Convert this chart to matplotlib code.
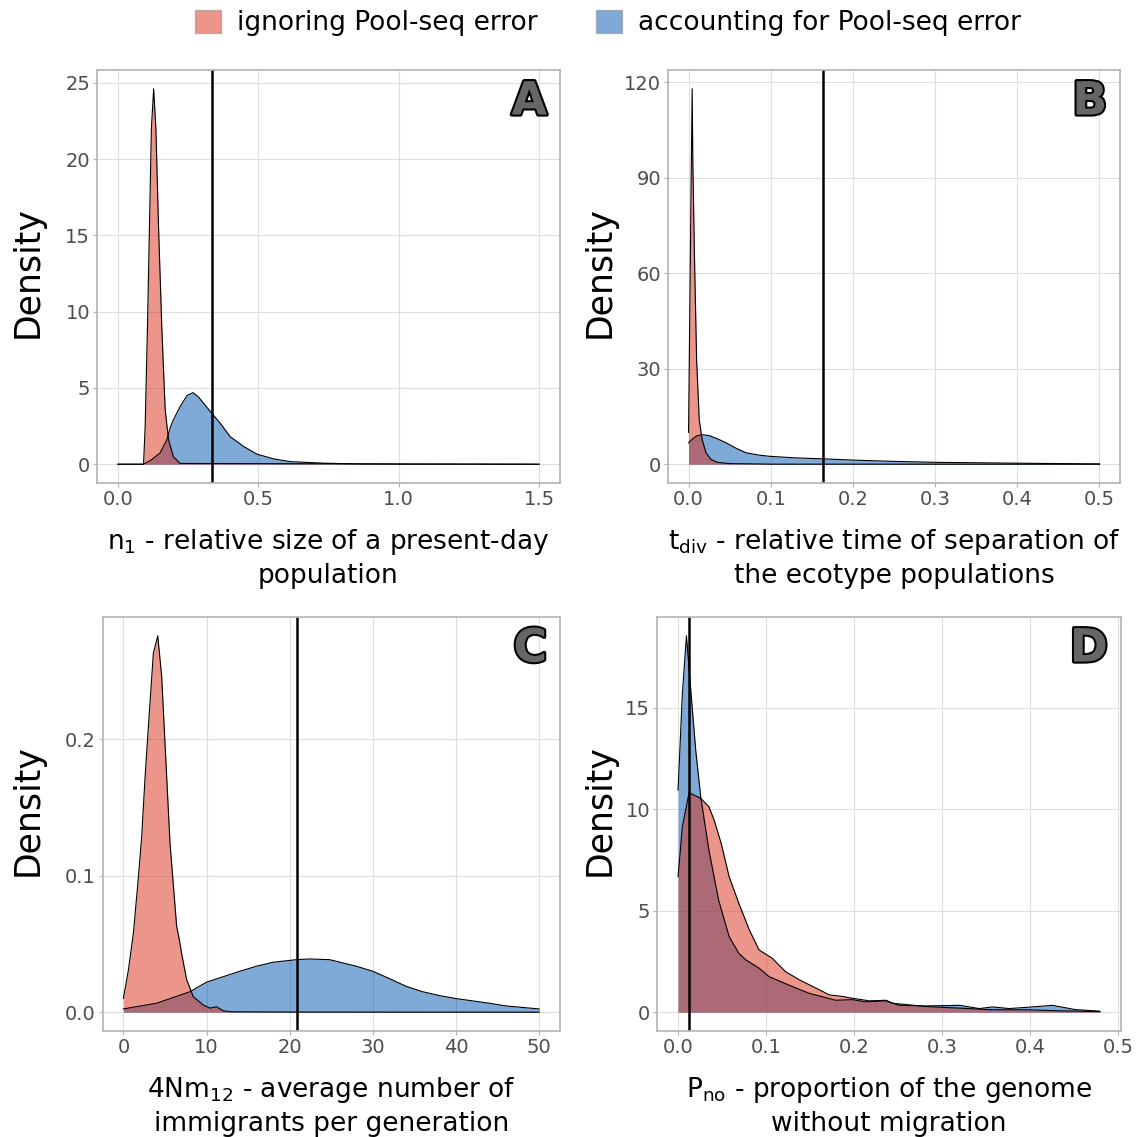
import numpy as np
import matplotlib.pyplot as plt
from matplotlib.patches import Patch
import matplotlib.patheffects as pe

# colours (alpha 0.5 fills, red drawn on top)
red = '#D92D19'
blue = '#0055AF'
grid_col = '#DEDEDE'
frame_col = '#B3B3B3'

# ---- panel A : n1
a_red_x = [0.0, 0.091, 0.0968, 0.105, 0.112, 0.119, 0.127, 0.135, 0.1445, 0.156, 0.168, 0.18, 0.197, 0.221, 1.5]
a_red_y = [0.0, 0.0, 2.5, 9.0, 15.5, 22.0, 24.6, 22.0, 15.5, 9.0, 3.6, 1.6, 0.5, 0.05, 0.0]
a_blue_x = [0.0, 0.091, 0.12, 0.15, 0.174, 0.186, 0.197, 0.222, 0.246, 0.267, 0.287, 0.311, 0.335,
            0.365, 0.40, 0.448, 0.495, 0.555, 0.613, 0.732, 0.85, 1.0, 1.5]
a_blue_y = [0.0, 0.0, 0.3, 0.74, 1.6, 2.4, 2.9, 3.8, 4.5, 4.69, 4.4, 3.86, 3.32,
            2.67, 1.8, 1.16, 0.66, 0.35, 0.17, 0.07, 0.02, 0.005, 0.0]
a_vline = 0.335

# ---- panel B : tdiv
b_red_x = [0.0, 0.001, 0.002, 0.003, 0.0044, 0.0052, 0.0073, 0.0098, 0.013, 0.0163, 0.0212, 0.0273,
           0.035, 0.05, 0.1, 0.5]
b_red_y = [10.0, 35.0, 60.0, 85.0, 118.0, 95.0, 64.0, 33.0, 14.0, 8.0, 3.6, 1.5,
           0.6, 0.2, 0.02, 0.0]
b_blue_x = [0.0, 0.005, 0.01, 0.017, 0.025, 0.035, 0.046, 0.058, 0.07, 0.085, 0.098, 0.13, 0.163,
            0.2, 0.249, 0.3, 0.37, 0.43, 0.5]
b_blue_y = [6.7, 8.0, 8.9, 9.3, 9.0, 8.0, 6.7, 5.0, 3.6, 2.9, 2.5, 2.0, 1.7,
            1.3, 0.9, 0.6, 0.4, 0.25, 0.1]
b_vline = 0.164

# ---- panel C : 4Nm12
c_red_x = [0.0, 0.6, 1.2, 1.8, 2.2, 2.6, 3.0, 3.6, 4.13, 4.6, 5.0, 5.6, 6.4, 6.7, 7.0, 7.6, 8.4,
           9.6, 10.4, 11.2, 12.0, 13.0, 20.0, 50.0]
c_red_y = [0.0102, 0.031, 0.058, 0.099, 0.129, 0.172, 0.209, 0.263, 0.2757, 0.246, 0.197, 0.124,
           0.063, 0.054, 0.043, 0.024, 0.0114, 0.0053, 0.003, 0.004, 0.001, 0.0003, 0.0001, 0.0]
c_blue_x = [0.0, 4.0, 8.0, 10.0, 12.0, 14.0, 16.0, 18.0, 20.8, 22.4, 24.8, 28.0, 30.0, 32.0, 34.0,
            36.0, 38.0, 40.0, 44.0, 46.0, 50.0]
c_blue_y = [0.0024, 0.0066, 0.015, 0.022, 0.026, 0.030, 0.0337, 0.0366, 0.0385, 0.039, 0.0385,
            0.0337, 0.030, 0.0246, 0.019, 0.015, 0.0122, 0.010, 0.0066, 0.0046, 0.0024]
c_vline = 20.9

# ---- panel D : Pno
d_red_x = [0.0, 0.0049, 0.0125, 0.0258, 0.035, 0.041, 0.049, 0.058, 0.069, 0.081, 0.092, 0.107,
           0.122, 0.138, 0.157, 0.172, 0.183, 0.198, 0.217, 0.236, 0.244, 0.282, 0.32, 0.357,
           0.395, 0.433, 0.479]
d_red_y = [6.68, 9.14, 10.82, 10.54, 10.13, 9.47, 8.32, 6.68, 5.37, 4.05, 3.07, 2.66,
           2.0, 1.59, 1.18, 0.85, 0.80, 0.69, 0.56, 0.59, 0.44, 0.28, 0.2, 0.12,
           0.12, 0.07, 0.03]
d_blue_x = [0.0, 0.0049, 0.0095, 0.0163, 0.0201, 0.0258, 0.035, 0.046, 0.058, 0.069, 0.077, 0.092,
            0.1035, 0.13, 0.149, 0.179, 0.198, 0.213, 0.236, 0.251, 0.282, 0.32, 0.342, 0.357,
            0.376, 0.402, 0.425, 0.451, 0.479]
d_blue_y = [10.95, 15.7, 18.55, 14.9, 12.9, 10.6, 8.0, 5.54, 3.73, 2.9, 2.58, 2.17,
            1.75, 1.26, 0.93, 0.59, 0.62, 0.51, 0.56, 0.34, 0.31, 0.34, 0.18, 0.26,
            0.18, 0.26, 0.34, 0.13, 0.05]
d_vline = 0.0125

panels = [
    dict(rect=[0.0852, 0.5752, 0.4069, 0.3632], letter='A', ylab=(-0.112, 0.51),
         rx=a_red_x, ry=a_red_y, bx=a_blue_x, by=a_blue_y, v=a_vline,
         xt=[0.0, 0.5, 1.0, 1.5], xtl=['0.0', '0.5', '1.0', '1.5'],
         yt=[0, 5, 10, 15, 20, 25], ytl=['0', '5', '10', '15', '20', '25'],
         xlab='n$_1$ - relative size of a present-day\npopulation'),
    dict(rect=[0.587, 0.5752, 0.3972, 0.3632], letter='B', ylab=(-0.113, 0.51),
         rx=b_red_x, ry=b_red_y, bx=b_blue_x, by=b_blue_y, v=b_vline,
         xt=[0.0, 0.1, 0.2, 0.3, 0.4, 0.5], xtl=['0.0', '0.1', '0.2', '0.3', '0.4', '0.5'],
         yt=[0, 30, 60, 90, 120], ytl=['0', '30', '60', '90', '120'],
         xlab='t$_\\mathrm{div}$ - relative time of separation of\nthe ecotype populations'),
    dict(rect=[0.0902, 0.0932, 0.4018, 0.3641], letter='C', ylab=(-0.126, 0.535),
         rx=c_red_x, ry=c_red_y, bx=c_blue_x, by=c_blue_y, v=c_vline,
         xt=[0, 10, 20, 30, 40, 50], xtl=['0', '10', '20', '30', '40', '50'],
         yt=[0.0, 0.1, 0.2], ytl=['0.0', '0.1', '0.2'],
         xlab='4Nm$_{12}$ - average number of\nimmigrants per generation'),
    dict(rect=[0.5773, 0.0932, 0.4077, 0.3641], letter='D', ylab=(-0.086, 0.535),
         rx=d_red_x, ry=d_red_y, bx=d_blue_x, by=d_blue_y, v=d_vline,
         xt=[0.0, 0.1, 0.2, 0.3, 0.4, 0.5], xtl=['0.0', '0.1', '0.2', '0.3', '0.4', '0.5'],
         yt=[0, 5, 10, 15], ytl=['0', '5', '10', '15'],
         xlab='P$_\\mathrm{no}$ - proportion of the genome\nwithout migration'),
]

fig = plt.figure(figsize=(11.38, 11.37), dpi=100)

for p in panels:
    ax = fig.add_axes(p['rect'])
    ax.set_axisbelow(True)
    ax.fill_between(p['bx'], 0, p['by'], color=blue, alpha=0.5, lw=0)
    ax.plot(p['bx'], p['by'], color='black', lw=0.8)
    ax.fill_between(p['rx'], 0, p['ry'], color=red, alpha=0.5, lw=0)
    ax.plot(p['rx'], p['ry'], color='black', lw=0.8)
    ax.axvline(p['v'], color='black', lw=1.8)
    ax.margins(x=0.05, y=0.05)
    ax.set_xticks(p['xt'])
    ax.set_xticklabels(p['xtl'])
    ax.set_yticks(p['yt'])
    ax.set_yticklabels(p['ytl'])
    ax.grid(True, color=grid_col, lw=0.8)
    for s in ax.spines.values():
        s.set_color(frame_col)
        s.set_linewidth(1.2)
    ax.tick_params(colors=frame_col, labelcolor='#4D4D4D', labelsize=14, length=3, width=0.8, pad=2)
    ax.set_xlabel(p['xlab'], fontsize=19, linespacing=1.3, labelpad=13)
    ax.set_ylabel('Density', fontsize=25)
    ax.yaxis.set_label_coords(*p['ylab'])
    ax.text(0.972, 0.977, p['letter'], transform=ax.transAxes, ha='right', va='top',
            fontsize=33, fontweight='bold', color='#666666',
            path_effects=[pe.withStroke(linewidth=3, foreground='black')])

handles = [Patch(facecolor=red, edgecolor='#888888', alpha=0.5, lw=1),
           Patch(facecolor=blue, edgecolor='#888888', alpha=0.5, lw=1)]
fig.legend(handles, ['ignoring Pool-seq error', 'accounting for Pool-seq error'],
           loc='center', bbox_to_anchor=(0.534, 1 - 23 / 1137), ncol=2, frameon=False,
           fontsize=19, handlelength=1.0, handleheight=1.0, handletextpad=0.6, columnspacing=2.2)

fig.savefig('out.png', dpi=100)
